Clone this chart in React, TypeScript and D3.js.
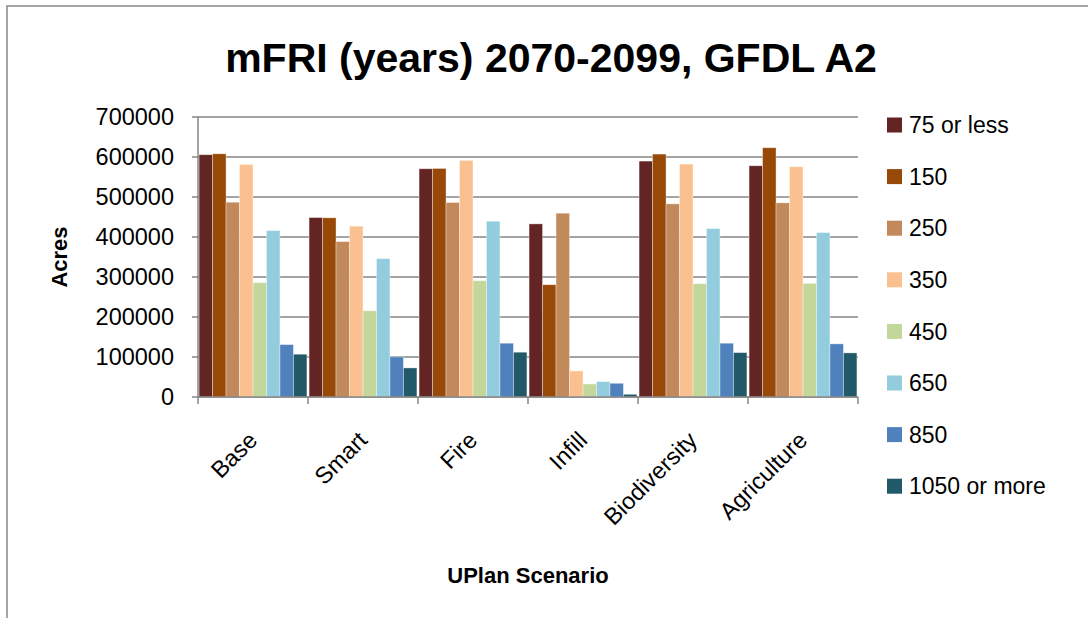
import React from "react";
import * as d3 from "d3";

const categories = ["Base", "Smart", "Fire", "Infill", "Biodiversity", "Agriculture"];
const seriesNames = ["75 or less", "150", "250", "350", "450", "650", "850", "1050 or more"];
const seriesColors = ["#632523", "#984807", "#C2895A", "#FAC090", "#C4D79B", "#93CDDD", "#4F81BD", "#215968"];
const v75 = [605700, 448600, 570600, 432800, 589800, 578100];
const v150 = [608000, 448000, 571400, 280700, 607300, 623200];
const v250 = [487000, 388500, 486200, 459500, 482900, 485400];
const v350 = [581500, 427000, 591500, 65200, 582300, 575600];
const v450 = [285700, 215500, 290700, 32600, 283200, 284000];
const v650 = [416000, 345900, 439400, 38400, 421000, 411000];
const v850 = [131000, 100300, 134500, 34300, 134500, 132800];
const v1050 = [107000, 72700, 112000, 6700, 111000, 110300];
const seriesValues = [v75, v150, v250, v350, v450, v650, v850, v1050];
const yTicks = [0, 100000, 200000, 300000, 400000, 500000, 600000, 700000];

const W = 1088;
const H = 618;
const FONT = "'Liberation Sans', Arial, sans-serif";

export default function App() {
  const left = 198, right = 858, top = 117, bottom = 397;
  const x0 = d3.scaleBand<string>().domain(categories).range([left, right]).paddingInner(0).paddingOuter(0);
  const x1 = d3.scaleBand<number>().domain(d3.range(seriesNames.length)).range([0, x0.bandwidth()]).paddingInner(0).paddingOuter(0.08);
  const y = d3.scaleLinear().domain([0, 700000]).range([bottom, top]);
  const grid = "#868686";
  const boundaries = [...categories.map((c) => x0(c) as number), right];

  return (
    <svg width={W} height={H} style={{ position: "absolute", left: 0, top: 0, background: "#fff" }} fontFamily={FONT}>
      <rect x={7} y={6} width={1200} height={700} fill="#fff" stroke="#888" strokeWidth={1.5} />
      <text x={551} y={72} textAnchor="middle" fontSize={41} fontWeight="bold" fill="#000">
        mFRI (years) 2070-2099, GFDL A2
      </text>
      {yTicks.map((t) => (
        <g key={t}>
          <line x1={left} x2={right} y1={y(t)} y2={y(t)} stroke={grid} strokeWidth={1.5} />
          <line x1={left - 6} x2={left} y1={y(t)} y2={y(t)} stroke={grid} strokeWidth={1.5} />
          <text x={174} y={y(t)} dy="0.35em" textAnchor="end" fontSize={23.5} fill="#000">
            {t}
          </text>
        </g>
      ))}
      {seriesValues.map((vals, si) => (
        <g key={si}>
          {vals.map((v, ci) => (
            <rect
              key={ci}
              x={(x0(categories[ci]) as number) + (x1(si) as number)}
              y={y(v)}
              width={x1.bandwidth()}
              height={bottom - y(v)}
              fill={seriesColors[si]}
              stroke="#ffffff"
              strokeOpacity={0.45}
              strokeWidth={0.8}
            />
          ))}
        </g>
      ))}
      <line x1={left} x2={left} y1={top} y2={bottom} stroke={grid} strokeWidth={1.5} />
      <line x1={left} x2={right} y1={bottom} y2={bottom} stroke={grid} strokeWidth={1.5} />
      {boundaries.map((b, i) => (
        <line key={i} x1={b} x2={b} y1={bottom} y2={bottom + 7} stroke={grid} strokeWidth={1.5} />
      ))}
      {categories.map((c) => {
        const cx = (x0(c) as number) + x0.bandwidth() / 2 - 6;
        const cy = 430;
        return (
          <text key={c} transform={`translate(${cx},${cy}) rotate(-45)`} textAnchor="end" dy="0.7em" fontSize={23.5} fill="#000">
            {c}
          </text>
        );
      })}
      <text transform={`translate(67,257) rotate(-90)`} textAnchor="middle" fontSize={22} fontWeight="bold" fill="#000">
        Acres
      </text>
      <text x={528} y={583} textAnchor="middle" fontSize={22} fontWeight="bold" fill="#000">
        UPlan Scenario
      </text>
      {seriesNames.map((n, i) => {
        const ly = 125 + i * 51.6;
        return (
          <g key={n}>
            <rect x={887} y={ly - 7.5} width={15} height={15} fill={seriesColors[i]} />
            <text x={909} y={ly} dy="0.36em" fontSize={23} fill="#000">
              {n}
            </text>
          </g>
        );
      })}
    </svg>
  );
}
